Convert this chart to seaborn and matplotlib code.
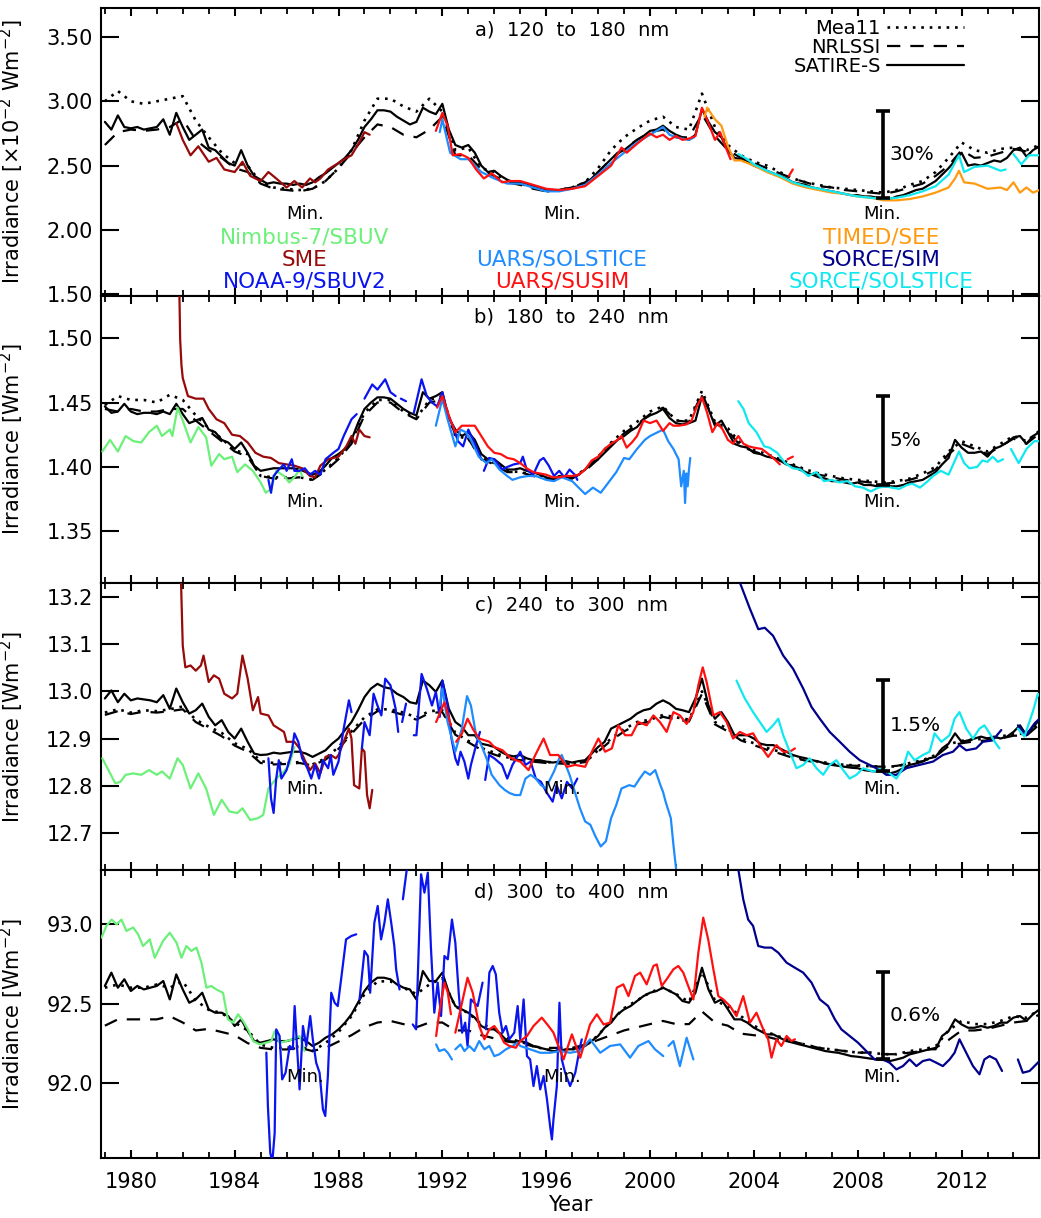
import numpy as np
import matplotlib
matplotlib.use("Agg")
import matplotlib.pyplot as plt
import seaborn as sns
from matplotlib.lines import Line2D
from matplotlib.ticker import MultipleLocator, FormatStrFormatter

# ---------------------------------------------------------------------------
# Model reconstructions.  SATIRE-S sampled every 0.25 yr from 1979.0,
# Mea11 and NRLSSI every 0.5 yr from 1979.0 (one row per year).
# ---------------------------------------------------------------------------
SATIRE_A = [
    2.84, 2.78, 2.89, 2.80,  2.79, 2.80, 2.78, 2.79,  2.80, 2.86, 2.74, 2.91,
    2.80, 2.70, 2.74, 2.78,  2.64, 2.62, 2.57, 2.52,  2.50, 2.62, 2.50, 2.42,
    2.39, 2.36, 2.37, 2.36,  2.36, 2.35, 2.36, 2.35,  2.37, 2.41, 2.44, 2.48,
    2.52, 2.56, 2.62, 2.70,  2.80, 2.86, 2.93, 2.93,  2.92, 2.88, 2.85, 2.82,
    2.84, 2.95, 2.92, 2.90,  2.98, 2.78, 2.66, 2.64,  2.66, 2.60, 2.50, 2.45,
    2.46, 2.42, 2.39, 2.37,  2.37, 2.36, 2.34, 2.32,  2.31, 2.31, 2.31, 2.32,
    2.33, 2.34, 2.36, 2.40,  2.45, 2.50, 2.55, 2.60,  2.62, 2.66, 2.70, 2.73,
    2.77, 2.78, 2.81, 2.77,  2.74, 2.72, 2.70, 2.74,  2.94, 2.84, 2.76, 2.72,
    2.62, 2.56, 2.55, 2.53,  2.50, 2.48, 2.46, 2.44,  2.42, 2.40, 2.37, 2.36,
    2.35, 2.33, 2.32, 2.31,  2.30, 2.29, 2.28, 2.27,  2.27, 2.26, 2.26, 2.25,
    2.24, 2.24, 2.26, 2.27,  2.29, 2.31, 2.32, 2.35,  2.38, 2.43, 2.48, 2.54,
    2.60, 2.50, 2.51, 2.50,  2.52, 2.54, 2.53, 2.56,  2.62, 2.64, 2.57, 2.62,
    2.65,
]
MEA11_A = [
    3.00, 3.08,  3.00, 2.98,  3.00, 3.02,  3.04, 2.85,  2.72, 2.60,  2.52, 2.50,
    2.37, 2.33,  2.32, 2.31,  2.32, 2.38,  2.48, 2.62,  2.85, 3.02,  3.02, 2.96,
    2.92, 3.02,  2.92, 2.62,  2.64, 2.48,  2.45, 2.38,  2.36, 2.33,  2.30, 2.31,
    2.33, 2.37,  2.48, 2.62,  2.72, 2.79,  2.85, 2.88,  2.80, 2.78,  3.06, 2.80,
    2.66, 2.58,  2.53, 2.50,  2.45, 2.40,  2.37, 2.35,  2.33, 2.32,  2.31, 2.30,
    2.29, 2.31,  2.35, 2.38,  2.45, 2.56,  2.68, 2.62,  2.60, 2.63,  2.64, 2.62,
    2.66,
]
NRLSSI_A = [
    2.66, 2.76,  2.78, 2.77,  2.78, 2.80,  2.86, 2.70,  2.62, 2.56,  2.48, 2.45,
    2.36, 2.32,  2.31, 2.30,  2.32, 2.38,  2.48, 2.60,  2.72, 2.82,  2.80, 2.74,
    2.72, 2.78,  2.88, 2.58,  2.58, 2.47,  2.42, 2.37,  2.35, 2.32,  2.30, 2.31,
    2.33, 2.37,  2.45, 2.55,  2.63, 2.70,  2.76, 2.78,  2.72, 2.72,  2.90, 2.73,
    2.62, 2.56,  2.52, 2.48,  2.44, 2.40,  2.37, 2.34,  2.33, 2.31,  2.30, 2.29,
    2.28, 2.30,  2.33, 2.36,  2.42, 2.50,  2.62, 2.56,  2.57, 2.60,  2.63, 2.61,
    2.65,
]

SATIRE_B = [
    1.447, 1.442, 1.443, 1.449,  1.443, 1.441, 1.442, 1.442,  1.441, 1.443, 1.441, 1.449,
    1.441, 1.434, 1.436, 1.438,  1.429, 1.427, 1.421, 1.419,  1.414, 1.419, 1.411, 1.401,
    1.397, 1.398, 1.399, 1.399,  1.399, 1.399, 1.398, 1.396,  1.394, 1.396, 1.401, 1.407,
    1.410, 1.414, 1.421, 1.434,  1.445, 1.450, 1.454, 1.454,  1.453, 1.449, 1.445, 1.442,
    1.440, 1.458, 1.453, 1.455,  1.458, 1.438, 1.429, 1.424,  1.427, 1.421, 1.410, 1.406,
    1.406, 1.402, 1.398, 1.398,  1.399, 1.397, 1.396, 1.394,  1.392, 1.390, 1.393, 1.392,
    1.392, 1.394, 1.398, 1.403,  1.406, 1.411, 1.416, 1.421,  1.424, 1.428, 1.431, 1.437,
    1.440, 1.442, 1.445, 1.438,  1.434, 1.433, 1.434, 1.436,  1.455, 1.445, 1.432, 1.436,
    1.427, 1.418, 1.416, 1.415,  1.411, 1.410, 1.408, 1.407,  1.405, 1.402, 1.401, 1.398,
    1.396, 1.394, 1.392, 1.391,  1.389, 1.389, 1.388, 1.387,  1.388, 1.386, 1.386, 1.385,
    1.385, 1.385, 1.385, 1.386,  1.388, 1.389, 1.390, 1.393,  1.396, 1.402, 1.407, 1.421,
    1.415, 1.411, 1.411, 1.412,  1.408, 1.414, 1.416, 1.419,  1.423, 1.424, 1.418, 1.424,
    1.427,
]
MEA11_B = [
    1.448, 1.455,  1.452, 1.452,  1.450, 1.456,  1.452, 1.440,  1.430, 1.422,  1.413, 1.410,
    1.393, 1.392,  1.392, 1.392,  1.390, 1.398,  1.407, 1.420,  1.442, 1.452,  1.452, 1.443,
    1.438, 1.452,  1.455, 1.424,  1.422, 1.407,  1.403, 1.397,  1.396, 1.394,  1.391, 1.392,
    1.392, 1.398,  1.408, 1.419,  1.428, 1.435,  1.443, 1.447,  1.436, 1.436,  1.459, 1.435,
    1.430, 1.418,  1.413, 1.410,  1.406, 1.402,  1.398, 1.395,  1.393, 1.391,  1.390, 1.389,
    1.388, 1.389,  1.391, 1.395,  1.400, 1.412,  1.420, 1.416,  1.412, 1.418,  1.424, 1.420,
    1.428,
]
NRLSSI_B = [
    1.445, 1.443,  1.445, 1.443,  1.443, 1.445,  1.445, 1.436,  1.428, 1.420,  1.412, 1.408,
    1.393, 1.391,  1.391, 1.392,  1.390, 1.397,  1.406, 1.418,  1.440, 1.450,  1.450, 1.442,
    1.437, 1.450,  1.452, 1.425,  1.422, 1.406,  1.402, 1.396,  1.396, 1.393,  1.391, 1.391,
    1.391, 1.397,  1.406, 1.418,  1.426, 1.433,  1.441, 1.446,  1.436, 1.435,  1.457, 1.434,
    1.428, 1.416,  1.412, 1.409,  1.405, 1.401,  1.397, 1.394,  1.392, 1.390,  1.389, 1.388,
    1.387, 1.388,  1.390, 1.393,  1.398, 1.410,  1.418, 1.414,  1.410, 1.416,  1.422, 1.418,
    1.426,
]

SATIRE_C = [
    12.985, 13.002, 12.977, 12.995,  12.981, 12.985, 12.983, 12.981,  12.977, 12.992, 12.963, 13.006,
    12.977, 12.953, 12.960, 12.974,  12.946, 12.928, 12.939, 12.914,  12.900, 12.921, 12.893, 12.868,
    12.865, 12.866, 12.870, 12.868,  12.870, 12.872, 12.872, 12.868,  12.861, 12.868, 12.875, 12.889,
    12.900, 12.918, 12.935, 12.960,  12.988, 13.006, 13.016, 13.009,  13.006, 12.995, 12.988, 12.977,
    12.974, 13.023, 13.013, 12.999,  13.023, 12.963, 12.935, 12.925,  12.907, 12.907, 12.889, 12.886,
    12.882, 12.872, 12.865, 12.862,  12.865, 12.858, 12.854, 12.854,  12.851, 12.849, 12.851, 12.852,
    12.849, 12.852, 12.854, 12.868,  12.882, 12.893, 12.921, 12.928,  12.935, 12.942, 12.953, 12.960,
    12.963, 12.974, 12.981, 12.974,  12.963, 12.960, 12.956, 12.985,  13.027, 12.970, 12.942, 12.956,
    12.935, 12.907, 12.907, 12.907,  12.900, 12.889, 12.886, 12.886,  12.879, 12.872, 12.865, 12.861,
    12.858, 12.854, 12.851, 12.847,  12.844, 12.842, 12.840, 12.838,  12.837, 12.833, 12.831, 12.830,
    12.830, 12.826, 12.830, 12.837,  12.844, 12.847, 12.851, 12.858,  12.861, 12.879, 12.889, 12.911,
    12.893, 12.896, 12.900, 12.904,  12.900, 12.904, 12.900, 12.904,  12.914, 12.928, 12.907, 12.925,
    12.939,
]
MEA11_C = [
    12.955, 12.962,  12.955, 12.960,  12.958, 12.962,  12.968, 12.940,  12.925, 12.912,  12.890, 12.878,
    12.852, 12.848,  12.848, 12.850,  12.845, 12.858,  12.882, 12.915,  12.945, 12.962,  12.962, 12.955,
    12.945, 12.958,  12.960, 12.912,  12.895, 12.880,  12.870, 12.860,  12.857, 12.853,  12.850, 12.849,
    12.848, 12.852,  12.875, 12.900,  12.920, 12.935,  12.940, 12.950,  12.945, 12.940,  13.000, 12.935,
    12.920, 12.900,  12.890, 12.880,  12.872, 12.862,  12.855, 12.851,  12.847, 12.844,  12.843, 12.841,
    12.840, 12.841,  12.848, 12.854,  12.865, 12.888,  12.895, 12.898,  12.900, 12.904,  12.910, 12.910,
    12.935,
]
NRLSSI_C = [
    12.950, 12.958,  12.952, 12.957,  12.955, 12.958,  12.962, 12.935,  12.920, 12.905,  12.885, 12.872,
    12.848, 12.845,  12.846, 12.848,  12.843, 12.855,  12.878, 12.910,  12.940, 12.958,  12.958, 12.950,
    12.940, 12.954,  12.956, 12.908,  12.892, 12.876,  12.866, 12.857,  12.854, 12.851,  12.848, 12.847,
    12.846, 12.850,  12.872, 12.896,  12.915, 12.930,  12.936, 12.946,  12.940, 12.936,  12.995, 12.930,
    12.915, 12.896,  12.886, 12.876,  12.868, 12.859,  12.853, 12.849,  12.845, 12.843,  12.842, 12.841,
    12.840, 12.842,  12.847, 12.852,  12.862, 12.884,  12.890, 12.894,  12.896, 12.900,  12.906, 12.906,
    12.930,
]

SATIRE_D = [
    92.611, 92.695, 92.600, 92.653,  92.579, 92.611, 92.589, 92.600,  92.611, 92.642, 92.526, 92.684,
    92.589, 92.505, 92.526, 92.568,  92.463, 92.442, 92.442, 92.421,  92.358, 92.400, 92.326, 92.263,
    92.253, 92.263, 92.274, 92.263,  92.263, 92.274, 92.284, 92.263,  92.232, 92.253, 92.284, 92.305,
    92.337, 92.379, 92.432, 92.505,  92.579, 92.632, 92.663, 92.663,  92.653, 92.621, 92.600, 92.589,
    92.526, 92.705, 92.642, 92.642,  92.695, 92.568, 92.484, 92.463,  92.442, 92.411, 92.358, 92.337,
    92.337, 92.305, 92.263, 92.260,  92.263, 92.253, 92.232, 92.221,  92.211, 92.200, 92.200, 92.211,
    92.211, 92.221, 92.232, 92.263,  92.295, 92.347, 92.379, 92.432,  92.463, 92.484, 92.516, 92.547,
    92.568, 92.579, 92.600, 92.579,  92.558, 92.516, 92.505, 92.568,  92.726, 92.589, 92.505, 92.526,
    92.463, 92.400, 92.400, 92.379,  92.347, 92.326, 92.305, 92.305,  92.284, 92.263, 92.253, 92.242,
    92.232, 92.221, 92.211, 92.200,  92.194, 92.189, 92.179, 92.168,  92.164, 92.158, 92.152, 92.147,
    92.143, 92.137, 92.147, 92.158,  92.179, 92.189, 92.200, 92.211,  92.211, 92.295, 92.326, 92.400,
    92.368, 92.347, 92.347, 92.358,  92.347, 92.358, 92.379, 92.379,  92.411, 92.421, 92.390, 92.432,
    92.463,
]
MEA11_D = [
    92.60, 92.62,  92.60, 92.60,  92.62, 92.60,  92.64, 92.52,  92.46, 92.44,  92.38, 92.33,
    92.24, 92.22,  92.22, 92.23,  92.20, 92.25,  92.32, 92.42,  92.56, 92.64,  92.64, 92.60,
    92.56, 92.62,  92.66, 92.48,  92.44, 92.37,  92.34, 92.28,  92.26, 92.23,  92.21, 92.20,
    92.21, 92.23,  92.30, 92.39,  92.47, 92.52,  92.57, 92.60,  92.56, 92.51,  92.70, 92.52,
    92.48, 92.42,  92.36, 92.32,  92.29, 92.26,  92.24, 92.22,  92.21, 92.20,  92.19, 92.19,
    92.18, 92.18,  92.20, 92.21,  92.23, 92.33,  92.39, 92.37,  92.37, 92.39,  92.42, 92.41,
    92.46,
]
NRLSSI_D = [
    92.36, 92.40,  92.40, 92.40,  92.40, 92.42,  92.38, 92.33,  92.34, 92.32,  92.30, 92.25,
    92.22, 92.21,  92.21, 92.22,  92.20, 92.22,  92.26, 92.30,  92.35, 92.38,  92.39, 92.37,
    92.35, 92.38,  92.38, 92.33,  92.33, 92.30,  92.28, 92.26,  92.25, 92.23,  92.22, 92.22,
    92.22, 92.24,  92.27, 92.30,  92.33, 92.35,  92.37, 92.39,  92.37, 92.37,  92.45, 92.38,
    92.36, 92.31,  92.30, 92.29,  92.27, 92.26,  92.24, 92.22,  92.21, 92.20,  92.19, 92.19,
    92.18, 92.18,  92.19, 92.20,  92.22, 92.27,  92.33, 92.33,  92.34, 92.36,  92.38, 92.39,
    92.43,
]

# ---------------------------------------------------------------------------
# Observations: (year, irradiance) pairs, None marks a data gap.
# ---------------------------------------------------------------------------
SME_A = [(1981.75, 2.83), (1982.0, 2.70), (1982.3, 2.58), (1982.6, 2.65), (1983.0, 2.53),
         (1983.3, 2.56), (1983.6, 2.47), (1984.0, 2.45), (1984.3, 2.53), (1984.6, 2.42),
         (1985.0, 2.38), (1985.3, 2.45), (1985.6, 2.40), (1986.0, 2.33), (1986.3, 2.38),
         (1986.6, 2.33), (1986.9, 2.40), (1987.1, 2.37), (1987.3, 2.40), (1987.6, 2.47),
         (1988.0, 2.52), (1988.3, 2.56), (1988.5, 2.58), (1988.8, 2.68), (1989.0, 2.76),
         (1989.2, 2.74)]
UARS_SOLSTICE_A = [(1991.9, 2.76), (1992.0, 2.86), (1992.3, 2.60), (1992.7, 2.55), (1993.0, 2.55),
                   (1993.5, 2.45), (1994.0, 2.40), (1994.5, 2.36), (1995.0, 2.36), (1995.5, 2.33),
                   (1996.0, 2.30), (1996.5, 2.30), (1997.0, 2.32), (1997.5, 2.35), (1998.0, 2.43),
                   (1998.5, 2.52), (1999.0, 2.60), (1999.5, 2.68), (2000.0, 2.74), (2000.5, 2.80),
                   (2000.75, 2.74), (2001.0, 2.72), (2001.25, 2.71), (2001.5, 2.70), (2001.7, 2.72)]
UARS_SUSIM_A = [(1991.75, 2.77), (1992.0, 2.91), (1992.2, 2.81), (1992.4, 2.58), (1992.7, 2.59),
                (1993.0, 2.56), (1993.3, 2.47), (1993.6, 2.40), (1993.9, 2.44), (1994.3, 2.37),
                (1994.6, 2.38), (1995.0, 2.38), (1995.5, 2.35), (1996.0, 2.32), (1996.5, 2.31),
                (1997.0, 2.32), (1997.5, 2.34), (1998.0, 2.42), (1998.5, 2.50), (1998.9, 2.64),
                (1999.1, 2.60), (1999.5, 2.67), (2000.0, 2.75), (2000.25, 2.72), (2000.5, 2.74),
                (2000.75, 2.70), (2001.0, 2.73), (2001.25, 2.70), (2001.5, 2.71), (2001.75, 2.73),
                (2002.0, 2.95), (2002.25, 2.83), (2002.5, 2.70), (2002.7, 2.76), (2002.9, 2.65),
                (2003.1, 2.55), None, (2005.35, 2.42), (2005.5, 2.47)]
TIMED_SEE_A = [(2002.1, 2.88), (2002.2, 2.95), (2002.5, 2.86), (2002.75, 2.81), (2003.0, 2.65),
               (2003.25, 2.54), (2003.5, 2.54), (2004.0, 2.50), (2004.5, 2.45), (2005.0, 2.41),
               (2005.5, 2.36), (2006.0, 2.33), (2006.5, 2.31), (2007.0, 2.29), (2007.5, 2.28),
               (2008.0, 2.26), (2008.5, 2.25), (2009.0, 2.23), (2009.5, 2.23), (2010.0, 2.24),
               (2010.5, 2.26), (2011.0, 2.29), (2011.5, 2.33), (2011.75, 2.40), (2011.9, 2.46),
               (2012.1, 2.37), (2012.5, 2.36), (2013.0, 2.32), (2013.5, 2.33), (2013.75, 2.31),
               (2014.0, 2.37), (2014.25, 2.29), (2014.5, 2.33), (2014.75, 2.29), (2015.0, 2.31)]
SORCE_SOLSTICE_A = [(2003.4, 2.59), (2003.75, 2.55), (2004.0, 2.51), (2004.5, 2.46), (2005.0, 2.42),
                    (2005.5, 2.37), (2006.0, 2.34), (2006.5, 2.32), (2007.0, 2.30), (2007.5, 2.28),
                    (2008.0, 2.26), (2008.5, 2.25), (2009.0, 2.24), (2009.5, 2.25), (2010.0, 2.27),
                    (2010.5, 2.30), (2011.0, 2.34), (2011.5, 2.43), (2011.9, 2.58), (2012.1, 2.45),
                    (2012.5, 2.49), (2013.0, 2.50), (2013.5, 2.46), (2013.7, 2.47), None,
                    (2014.0, 2.59), (2014.3, 2.51), (2014.6, 2.58), (2015.0, 2.58)]

NIMBUS7_B = [(1978.9, 1.412), (1979.2, 1.421), (1979.5, 1.412), (1979.8, 1.424), (1980.1, 1.420),
             (1980.4, 1.419), (1980.7, 1.427), (1981.0, 1.432), (1981.2, 1.424), (1981.5, 1.429),
             (1981.6, 1.424), (1981.8, 1.446), (1982.0, 1.436), (1982.3, 1.419), (1982.6, 1.431),
             (1982.9, 1.423), (1983.1, 1.401), (1983.4, 1.410), (1983.6, 1.406), (1983.9, 1.408),
             (1984.1, 1.396), (1984.4, 1.402), (1984.7, 1.397), (1985.0, 1.388), (1985.2, 1.380),
             (1985.4, 1.383), (1985.6, 1.397), (1985.9, 1.393), (1986.1, 1.388), (1986.3, 1.392),
             (1986.5, 1.398), (1986.6, 1.393)]
SME_B = [(1981.85, 1.560), (1981.9, 1.499), (1981.95, 1.479), (1982.0, 1.469), (1982.2, 1.455),
         (1982.5, 1.453), (1982.8, 1.453), (1983.0, 1.445), (1983.3, 1.437), (1983.6, 1.434),
         (1983.9, 1.425), (1984.2, 1.424), (1984.5, 1.419), (1984.8, 1.411), (1985.1, 1.408),
         (1985.4, 1.407), (1985.7, 1.403), (1986.0, 1.402), (1986.3, 1.401), (1986.6, 1.399),
         (1986.9, 1.393), (1987.1, 1.392), (1987.3, 1.401), (1987.6, 1.406), (1988.0, 1.408),
         (1988.3, 1.416), (1988.5, 1.424), (1988.65, 1.418), (1988.8, 1.429), (1989.0, 1.424),
         (1989.2, 1.423)]
NOAA9_B = [(1985.3, 1.390), (1985.4, 1.380), (1985.5, 1.393), (1985.7, 1.398), (1985.9, 1.402),
           (1986.0, 1.397), (1986.2, 1.406), (1986.3, 1.397), (1986.5, 1.397), (1986.7, 1.399),
           (1986.9, 1.394), (1987.1, 1.397), (1987.3, 1.394), (1987.5, 1.406), (1987.8, 1.411),
           (1988.0, 1.414), (1988.2, 1.424), (1988.5, 1.437), (1988.7, 1.441), None,
           (1989.0, 1.453), (1989.3, 1.464), (1989.5, 1.460), (1989.8, 1.468), (1990.0, 1.458),
           (1990.2, 1.455), None, (1990.4, 1.453), (1990.6, 1.451), None,
           (1990.9, 1.442), (1991.2, 1.468), (1991.4, 1.455), (1991.6, 1.450), (1991.8, 1.447),
           (1992.0, 1.458), (1992.2, 1.441), (1992.4, 1.432), (1992.6, 1.420), (1992.8, 1.416),
           (1993.0, 1.429), (1993.3, 1.416), (1993.5, 1.406), None,
           (1993.6, 1.397), (1993.8, 1.407), (1994.0, 1.406), (1994.3, 1.398), (1994.5, 1.400),
           (1994.75, 1.402), (1995.0, 1.403), (1995.1, 1.408), (1995.25, 1.398), (1995.5, 1.394),
           (1995.75, 1.405), (1995.9, 1.407), (1996.1, 1.401), (1996.3, 1.393), (1996.5, 1.397),
           (1996.7, 1.392), (1996.9, 1.398), (1997.1, 1.394), (1997.2, 1.390)]
UARS_SOLSTICE_B = [(1991.75, 1.432), (1992.0, 1.453), (1992.2, 1.437), (1992.5, 1.416), (1992.7, 1.429),
                   (1992.9, 1.427), (1993.1, 1.421), (1993.4, 1.408), (1993.7, 1.403), (1993.9, 1.406),
                   (1994.2, 1.398), (1994.5, 1.393), (1994.7, 1.390), (1995.0, 1.392), (1995.3, 1.393),
                   (1995.6, 1.393), (1996.0, 1.390), (1996.3, 1.389), (1996.6, 1.392), (1997.0, 1.389),
                   (1997.3, 1.383), (1997.5, 1.379), (1997.8, 1.384), (1998.1, 1.380), (1998.4, 1.388),
                   (1998.7, 1.396), (1999.0, 1.407), (1999.2, 1.406), (1999.5, 1.414), (1999.8, 1.421),
                   (2000.0, 1.424), (2000.3, 1.427), (2000.5, 1.429), (2000.7, 1.420), (2000.9, 1.414),
                   (2001.1, 1.406), (2001.2, 1.385), (2001.3, 1.397), (2001.35, 1.372), (2001.4, 1.395),
                   (2001.45, 1.385), (2001.5, 1.398), (2001.55, 1.407)]
UARS_SUSIM_B = [(1991.8, 1.446), (1992.0, 1.455), (1992.3, 1.437), (1992.5, 1.427), (1992.75, 1.432),
                (1993.0, 1.432), (1993.25, 1.432), (1993.5, 1.424), (1993.75, 1.416), (1994.0, 1.411),
                (1994.25, 1.410), (1994.5, 1.407), (1994.75, 1.406), (1995.0, 1.403), (1995.25, 1.399),
                (1995.5, 1.396), (1995.75, 1.395), (1996.0, 1.394), (1996.25, 1.392), (1996.5, 1.392),
                (1996.75, 1.393), (1997.0, 1.393), (1997.25, 1.394), (1997.5, 1.398), (1997.75, 1.405),
                (1998.0, 1.408), (1998.25, 1.414), (1998.5, 1.418), (1998.75, 1.421), (1998.9, 1.424),
                (1999.1, 1.415), (1999.3, 1.419), (1999.5, 1.424), (1999.75, 1.436), (2000.0, 1.434),
                (2000.25, 1.436), (2000.5, 1.428), (2000.75, 1.434), (2000.9, 1.432), (2001.1, 1.432),
                (2001.4, 1.433), (2001.6, 1.436), (2001.8, 1.447), (2002.0, 1.454), (2002.2, 1.442),
                (2002.4, 1.427), (2002.6, 1.434), (2002.8, 1.429), (2003.0, 1.421), (2003.2, 1.418),
                (2003.4, 1.424), (2003.6, 1.418), (2003.8, 1.416), (2004.0, 1.415), (2004.3, 1.414),
                (2004.5, 1.411), (2004.8, 1.406), (2005.0, 1.402), None, (2005.3, 1.406), (2005.5, 1.408)]
SORCE_SOLSTICE_B = [(2003.4, 1.451), (2003.6, 1.445), (2003.8, 1.434), (2004.1, 1.427), (2004.4, 1.416),
                    (2004.6, 1.415), (2004.9, 1.411), (2005.2, 1.403), (2005.5, 1.399), (2005.8, 1.398),
                    (2006.1, 1.393), (2006.4, 1.396), (2006.7, 1.389), (2007.0, 1.390), (2007.3, 1.388),
                    (2007.6, 1.389), (2007.9, 1.385), (2008.2, 1.384), (2008.5, 1.381), (2008.8, 1.384),
                    (2009.1, 1.385), (2009.3, 1.384), (2009.6, 1.383), (2009.9, 1.386), (2010.1, 1.387),
                    (2010.4, 1.384), (2010.7, 1.389), (2010.9, 1.393), (2011.2, 1.397), (2011.5, 1.394),
                    (2011.7, 1.403), (2011.9, 1.412), (2012.1, 1.403), (2012.3, 1.399), (2012.6, 1.400),
                    (2012.8, 1.405), (2013.0, 1.404), (2013.2, 1.408), (2013.4, 1.404), (2013.6, 1.406),
                    None, (2013.9, 1.414), (2014.2, 1.403), (2014.5, 1.414), (2014.8, 1.420),
                    (2015.0, 1.420)]

NIMBUS7_C = [(1978.9, 12.858), (1979.1, 12.837), (1979.4, 12.805), (1979.6, 12.808), (1979.8, 12.823),
             (1980.1, 12.826), (1980.4, 12.823), (1980.7, 12.833), (1981.0, 12.823), (1981.2, 12.830),
             (1981.5, 12.815), (1981.8, 12.858), (1982.0, 12.844), (1982.3, 12.794), (1982.6, 12.826),
             (1982.9, 12.794), (1983.2, 12.738), (1983.5, 12.770), (1983.8, 12.745), (1984.1, 12.742),
             (1984.3, 12.752), (1984.6, 12.727), (1984.9, 12.731), (1985.1, 12.738), (1985.3, 12.794),
             (1985.6, 12.815), (1985.9, 12.830), (1986.1, 12.844), (1986.3, 12.882)]
SME_C = [(1981.9, 13.300), (1982.0, 13.097), (1982.1, 13.051), (1982.3, 13.055), (1982.5, 13.044),
         (1982.7, 13.055), (1982.8, 13.076), (1983.0, 13.020), (1983.2, 13.034), (1983.4, 13.027),
         (1983.6, 12.995), (1983.9, 12.985), (1984.1, 12.995), (1984.3, 13.076), (1984.5, 13.027),
         (1984.7, 12.960), (1984.9, 12.988), (1985.0, 12.953), (1985.3, 12.949), (1985.5, 12.928),
         (1985.7, 12.921), (1985.9, 12.914), (1986.0, 12.893), (1986.3, 12.893), (1986.5, 12.879),
         (1986.7, 12.854), (1986.9, 12.833), (1987.1, 12.847), (1987.3, 12.826), (1987.5, 12.861),
         (1987.7, 12.865), (1987.9, 12.858), (1988.0, 12.865), (1988.2, 12.893), (1988.4, 12.921),
         (1988.5, 12.900), (1988.6, 12.801), (1988.8, 12.794), (1988.9, 12.879), (1989.0, 12.872),
         (1989.1, 12.780), (1989.2, 12.752), (1989.3, 12.791)]
NOAA9_C = [(1985.3, 12.858), (1985.4, 12.773), (1985.5, 12.742), (1985.6, 12.815), (1985.7, 12.854),
           (1985.8, 12.815), (1986.0, 12.833), (1986.2, 12.872), (1986.3, 12.911), (1986.45, 12.893),
           (1986.6, 12.858), (1986.8, 12.837), (1986.95, 12.815), (1987.1, 12.844), (1987.25, 12.815),
           (1987.4, 12.854), (1987.6, 12.837), (1987.7, 12.865), (1987.8, 12.823), (1988.0, 12.851),
           (1988.2, 12.921), (1988.4, 12.981), (1988.5, 12.956), None,
           (1988.9, 12.879), (1989.0, 12.935), (1989.2, 12.907), (1989.35, 12.995), (1989.5, 12.970),
           (1989.65, 12.949), (1989.8, 13.027), (1990.0, 13.013), (1990.2, 12.963), (1990.3, 12.914),
           None, (1990.45, 12.935), (1990.6, 12.974), None,
           (1990.9, 12.907), (1991.0, 12.907), (1991.2, 13.037), (1991.4, 13.006), (1991.6, 12.970),
           (1991.75, 12.999), (1991.9, 12.946), (1992.0, 13.023), (1992.2, 12.970), (1992.35, 12.900),
           (1992.5, 12.858), (1992.6, 12.844), (1992.7, 12.872), (1992.85, 12.851), (1993.0, 12.815),
           (1993.1, 12.844), (1993.3, 12.886), (1993.45, 12.914), None,
           (1993.65, 12.812), (1993.8, 12.865), (1994.0, 12.858), (1994.3, 12.844), (1994.5, 12.815),
           (1994.7, 12.844), (1995.0, 12.872), (1995.2, 12.844), (1995.4, 12.851), (1995.6, 12.815),
           (1995.8, 12.808), (1996.0, 12.787), (1996.25, 12.766), (1996.4, 12.801), (1996.6, 12.773),
           (1996.8, 12.808), (1997.0, 12.794), (1997.2, 12.815)]
UARS_SOLSTICE_C = [(1991.9, 12.970), (1992.0, 13.006), (1992.2, 12.935), (1992.5, 12.872), (1992.75, 12.921),
                   (1992.95, 12.990), (1993.1, 12.970), (1993.3, 12.907), (1993.5, 12.886), (1993.7, 12.858),
                   (1993.9, 12.823), (1994.2, 12.801), (1994.4, 12.791), (1994.6, 12.784), (1994.8, 12.780),
                   (1995.0, 12.780), (1995.2, 12.815), (1995.4, 12.823), (1995.6, 12.815), (1995.8, 12.801),
                   (1996.0, 12.794), (1996.1, 12.808), (1996.3, 12.830), (1996.4, 12.844), (1996.5, 12.858),
                   (1996.6, 12.865), (1996.75, 12.844), (1996.9, 12.823), (1997.1, 12.787), (1997.3, 12.752),
                   (1997.5, 12.724), (1997.7, 12.717), (1997.9, 12.692), (1998.1, 12.671), (1998.3, 12.682),
                   (1998.5, 12.731), (1998.7, 12.759), (1998.9, 12.794), (1999.2, 12.801), (1999.4, 12.798),
                   (1999.6, 12.815), (1999.8, 12.830), (2000.0, 12.823), (2000.2, 12.833), (2000.4, 12.801),
                   (2000.5, 12.787), (2000.6, 12.766), (2000.8, 12.731), (2000.9, 12.675), (2001.0, 12.625),
                   (2001.1, 12.580)]
UARS_SUSIM_C = [(1991.76, 12.935), (1992.08, 12.977), (1992.33, 12.928), None,
                (1992.53, 12.893), (1992.75, 12.910), (1992.97, 12.942), (1993.2, 12.918), (1993.42, 12.900),
                (1993.81, 12.893), (1994.0, 12.882), (1994.32, 12.875), (1994.6, 12.860), (1994.83, 12.854),
                (1995.0, 12.851), (1995.32, 12.833), (1995.58, 12.865), (1995.9, 12.900), (1996.15, 12.865),
                (1996.47, 12.865), (1996.8, 12.840), (1997.12, 12.844), (1997.5, 12.840), (1997.76, 12.872),
                (1998.01, 12.900), (1998.27, 12.872), (1998.53, 12.879), (1998.78, 12.928), (1999.04, 12.907),
                (1999.29, 12.907), (1999.55, 12.935), (1999.87, 12.928), (2000.13, 12.949), (2000.38, 12.935),
                (2000.64, 12.914), (2000.9, 12.956), (2001.15, 12.949), (2001.41, 12.931), (2001.67, 12.956),
                (2001.86, 13.013), (2002.03, 13.051), (2002.18, 13.020), (2002.44, 12.949), (2002.69, 12.956),
                (2002.95, 12.935), (2003.2, 12.900), (2003.46, 12.914), (2003.72, 12.907), (2003.97, 12.911),
                (2004.23, 12.886), (2004.55, 12.861), (2004.87, 12.886), (2005.13, 12.872), (2005.38, 12.872),
                (2005.58, 12.879)]
SORCE_SIM_C = [(2003.3, 13.300), (2003.46, 13.231), (2003.85, 13.175), (2004.17, 13.132), (2004.42, 13.135),
               (2004.74, 13.118), (2005.13, 13.076), (2005.51, 13.048), (2005.9, 13.006), (2006.22, 12.967),
               (2006.54, 12.942), (2006.92, 12.914), (2007.31, 12.893), (2007.69, 12.872), (2008.08, 12.854),
               (2008.46, 12.844), (2008.85, 12.833), (2009.1, 12.823), (2009.49, 12.823), (2009.87, 12.837),
               (2010.38, 12.844), (2010.9, 12.851), (2011.28, 12.865), (2011.67, 12.872), (2011.92, 12.886),
               (2012.18, 12.875), (2012.56, 12.879), (2012.82, 12.893), (2013.2, 12.896), (2013.53, 12.918),
               None, (2014.17, 12.928), (2014.49, 12.907), (2014.81, 12.932), (2015.0, 12.942)]
SORCE_SOLSTICE_C = [(2003.33, 13.023), (2003.65, 12.985), (2003.97, 12.956), (2004.23, 12.935), (2004.49, 12.914),
                    (2004.74, 12.928), (2004.94, 12.942), (2005.13, 12.907), (2005.38, 12.872), (2005.64, 12.837),
                    (2005.9, 12.844), (2006.15, 12.858), (2006.41, 12.837), (2006.67, 12.823), (2006.92, 12.844),
                    (2007.18, 12.854), (2007.44, 12.833), (2007.69, 12.815), (2007.95, 12.823), (2008.21, 12.837),
                    (2008.59, 12.830), (2008.97, 12.837), (2009.23, 12.826), (2009.49, 12.815), (2009.74, 12.837),
                    (2009.94, 12.872), (2010.19, 12.854), (2010.51, 12.865), (2010.77, 12.872), (2010.96, 12.911),
                    (2011.22, 12.893), (2011.54, 12.907), (2011.73, 12.942), (2011.92, 12.956), (2012.18, 12.921),
                    (2012.44, 12.900), (2012.69, 12.921), (2012.88, 12.928), (2013.08, 12.911), (2013.28, 12.893),
                    (2013.46, 12.879), None, (2014.17, 12.921), (2014.42, 12.904), (2014.74, 12.956),
                    (2014.94, 12.995), (2015.0, 12.990)]

NIMBUS7_D = [(1978.87, 92.916), (1979.06, 92.990), (1979.26, 93.030), (1979.45, 93.000), (1979.64, 93.030),
             (1979.83, 92.958), (1980.09, 92.980), (1980.28, 92.937), (1980.47, 92.863), (1980.73, 92.905),
             (1980.92, 92.789), (1981.24, 92.895), (1981.5, 92.947), (1981.76, 92.884), (1981.95, 92.789),
             (1982.14, 92.863), (1982.33, 92.832), (1982.53, 92.853), (1982.72, 92.758), (1982.91, 92.600),
             (1983.1, 92.611), (1983.29, 92.589), (1983.55, 92.568), (1983.74, 92.400), (1983.94, 92.379),
             (1984.13, 92.432), (1984.32, 92.390), (1984.51, 92.337), (1984.71, 92.263), (1984.96, 92.242),
             (1985.22, 92.253), (1985.41, 92.263), (1985.54, 92.326), (1985.73, 92.253), (1985.99, 92.263),
             (1986.24, 92.274), (1986.5, 92.295), (1986.69, 92.200)]
NOAA9_D = [(1985.22, 92.190), (1985.28, 91.853), (1985.37, 91.558), (1985.45, 91.500), (1985.54, 91.680),
           (1985.6, 92.337), (1985.73, 92.295), (1985.83, 92.021), (1985.96, 92.063), (1986.12, 92.232),
           (1986.24, 92.211), (1986.31, 92.484), (1986.4, 92.232), (1986.5, 91.958), (1986.63, 92.358),
           (1986.76, 92.232), (1986.91, 92.421), (1987.01, 92.274), (1987.14, 92.126), (1987.27, 92.063),
           (1987.4, 91.832), (1987.49, 91.790), (1987.59, 92.042), (1987.72, 92.568), (1987.85, 92.505),
           (1987.97, 92.484), (1988.1, 92.653), (1988.29, 92.905), (1988.49, 92.926), (1988.68, 92.937),
           None, (1988.81, 92.526), (1989.0, 92.832), (1989.13, 92.800), (1989.22, 92.568), (1989.38, 93.010),
           (1989.51, 93.116), (1989.64, 92.905), (1989.77, 93.010), (1989.9, 93.158), (1990.03, 93.010),
           (1990.15, 92.863), (1990.22, 92.716), (1990.35, 92.589), None,
           (1990.48, 93.158), (1990.63, 93.347), (1990.7, 93.400), None,
           (1990.86, 92.368), (1990.99, 92.337), (1991.18, 93.316), (1991.31, 93.200), (1991.44, 93.326),
           (1991.56, 92.853), (1991.69, 92.442), (1991.82, 92.632), (1991.95, 92.421), (1992.08, 92.800),
           (1992.21, 92.779), (1992.37, 93.030), (1992.5, 92.884), (1992.63, 92.568), (1992.76, 92.316),
           (1992.88, 92.379), (1992.97, 92.232), (1993.1, 92.526), (1993.23, 92.505), (1993.36, 92.484),
           (1993.55, 92.632), None,
           (1993.68, 92.337), (1993.81, 92.695), (1993.94, 92.737), (1994.06, 92.684), (1994.19, 92.442),
           (1994.32, 92.316), (1994.45, 92.358), (1994.58, 92.274), (1994.77, 92.316), (1994.9, 92.484),
           (1995.0, 92.274), (1995.13, 92.526), (1995.26, 92.168), (1995.38, 92.147), (1995.51, 91.979),
           (1995.64, 92.105), (1995.77, 91.958), (1995.9, 92.042), (1996.03, 91.895), (1996.15, 91.726),
           (1996.22, 91.642), (1996.28, 91.768), (1996.41, 91.979), (1996.51, 92.505), (1996.6, 92.147),
           (1996.73, 92.063), (1996.92, 91.979), (1997.12, 92.063), (1997.31, 92.232), (1997.37, 92.274)]
UARS_SOLSTICE_D = [(1991.76, 92.242), (1991.88, 92.200), (1992.08, 92.211), (1992.21, 92.189), (1992.37, 92.147),
                   None, (1992.5, 92.211), (1992.7, 92.242), (1992.85, 92.200), (1993.04, 92.232),
                   (1993.23, 92.200), (1993.42, 92.263), (1993.62, 92.211), (1993.81, 92.232), (1994.0, 92.168),
                   (1994.19, 92.179), (1994.45, 92.211), (1994.71, 92.232), (1994.9, 92.253), (1995.0, 92.232),
                   (1995.38, 92.211), (1995.77, 92.189), (1996.15, 92.189), (1996.54, 92.200), (1996.92, 92.189),
                   (1997.31, 92.200), (1997.69, 92.274), (1998.08, 92.189), (1998.46, 92.232), (1998.85, 92.242),
                   (1999.23, 92.158), (1999.55, 92.232), (1999.94, 92.263), (2000.19, 92.211), (2000.51, 92.168),
                   None, (2000.71, 92.232), (2000.9, 92.263), (2001.15, 92.105), (2001.41, 92.284),
                   (2001.67, 92.147)]
UARS_SUSIM_D = [(1991.76, 92.295), (1991.88, 92.442), (1992.08, 92.632), (1992.21, 92.568), (1992.33, 92.432),
                None, (1992.5, 92.316), (1992.7, 92.463), (1992.97, 92.663), (1993.17, 92.568),
                (1993.42, 92.358), (1993.62, 92.274), (1993.81, 92.337), (1994.0, 92.358), (1994.19, 92.316),
                (1994.38, 92.253), (1994.58, 92.232), (1994.83, 92.221), (1995.0, 92.263), (1995.26, 92.295),
                (1995.51, 92.358), (1995.83, 92.411), (1996.09, 92.358), (1996.28, 92.316), (1996.47, 92.232),
                (1996.67, 92.147), (1996.99, 92.305), (1997.31, 92.158), (1997.69, 92.368), (1997.95, 92.432),
                (1998.21, 92.368), (1998.46, 92.379), (1998.72, 92.600), (1998.97, 92.621), (1999.17, 92.547),
                (1999.42, 92.674), (1999.62, 92.695), (1999.87, 92.621), (2000.13, 92.737), (2000.26, 92.747),
                (2000.45, 92.611), (2000.64, 92.653), (2000.9, 92.716), (2001.09, 92.737), (2001.28, 92.695),
                (2001.47, 92.611), (2001.67, 92.526), (2001.86, 92.821), (2002.05, 93.042), (2002.24, 92.905),
                (2002.44, 92.716), (2002.63, 92.547), (2002.82, 92.526), (2003.08, 92.484), (2003.33, 92.421),
                (2003.59, 92.547), (2003.85, 92.379), (2004.1, 92.442), (2004.36, 92.337), (2004.55, 92.274),
                (2004.68, 92.158), (2004.87, 92.274), (2005.06, 92.232), (2005.26, 92.295), (2005.45, 92.263),
                (2005.58, 92.274)]
SORCE_SIM_D = [(2003.3, 93.450), (2003.4, 93.347), (2003.59, 93.158), (2003.78, 93.030), (2003.97, 92.990),
               (2004.17, 92.863), (2004.42, 92.853), (2004.68, 92.853), (2004.94, 92.821), (2005.26, 92.758),
               (2005.58, 92.726), (2005.9, 92.695), (2006.22, 92.632), (2006.54, 92.526), (2006.86, 92.484),
               (2007.12, 92.400), (2007.37, 92.337), (2007.69, 92.295), (2008.01, 92.253), (2008.33, 92.200),
               (2008.65, 92.147), (2008.97, 92.147), (2009.23, 92.126), (2009.49, 92.084), (2009.74, 92.105),
               (2010.0, 92.147), (2010.26, 92.105), (2010.51, 92.137), (2010.77, 92.147), (2011.03, 92.126),
               (2011.28, 92.105), (2011.54, 92.147), (2011.73, 92.189), (2011.92, 92.274), (2012.18, 92.189),
               (2012.44, 92.105), (2012.69, 92.053), (2012.88, 92.147), (2013.08, 92.168), (2013.33, 92.147),
               (2013.56, 92.074), None, (2014.17, 92.147), (2014.36, 92.063), (2014.62, 92.074),
               (2014.81, 92.105), (2015.0, 92.137)]

# Instrument colours
C_NIMBUS = "#6cf07a"
C_SME = "#980a0a"
C_NOAA9 = "#0a14ee"
C_UARS_SOL = "#1e8cff"
C_SUSIM = "#ff1010"
C_TIMED = "#ff9a10"
C_SIM = "#00008c"
C_SORCE_SOL = "#10e8f0"

# Variability bars: base value and stated percentage per panel
BAR_YEAR = 2008.96
BAR_BASE = [2.25, 1.386, 12.831, 92.147]
BAR_PCT = [30, 5, 1.5, 0.6]

MIN_YEARS = [1986.7, 1996.6, 2008.95]

PANELS = [
    dict(title="a)  120  to  180  nm", ylim=(1.49, 3.725), step=0.5, fmt="%.2f",
         ylabel="Irradiance [×10$^{-2}$ Wm$^{-2}$]",
         models=(MEA11_A, NRLSSI_A, SATIRE_A),
         obs=[(SME_A, C_SME), (UARS_SOLSTICE_A, C_UARS_SOL), (UARS_SUSIM_A, C_SUSIM),
              (TIMED_SEE_A, C_TIMED), (SORCE_SOLSTICE_A, C_SORCE_SOL)]),
    dict(title="b)  180  to  240  nm", ylim=(1.31, 1.533), step=0.05, fmt="%.2f",
         ylabel="Irradiance [Wm$^{-2}$]",
         models=(MEA11_B, NRLSSI_B, SATIRE_B),
         obs=[(NIMBUS7_B, C_NIMBUS), (SME_B, C_SME), (NOAA9_B, C_NOAA9),
              (UARS_SOLSTICE_B, C_UARS_SOL), (UARS_SUSIM_B, C_SUSIM),
              (SORCE_SOLSTICE_B, C_SORCE_SOL)]),
    dict(title="c)  240  to  300  nm", ylim=(12.62, 13.23), step=0.1, fmt="%.1f",
         ylabel="Irradiance [Wm$^{-2}$]",
         models=(MEA11_C, NRLSSI_C, SATIRE_C),
         obs=[(NIMBUS7_C, C_NIMBUS), (SME_C, C_SME), (NOAA9_C, C_NOAA9),
              (UARS_SOLSTICE_C, C_UARS_SOL), (UARS_SUSIM_C, C_SUSIM),
              (SORCE_SIM_C, C_SIM), (SORCE_SOLSTICE_C, C_SORCE_SOL)]),
    dict(title="d)  300  to  400  nm", ylim=(91.525, 93.34), step=0.5, fmt="%.1f",
         ylabel="Irradiance [Wm$^{-2}$]",
         models=(MEA11_D, NRLSSI_D, SATIRE_D),
         obs=[(NIMBUS7_D, C_NIMBUS), (NOAA9_D, C_NOAA9), (UARS_SOLSTICE_D, C_UARS_SOL),
              (UARS_SUSIM_D, C_SUSIM), (SORCE_SIM_D, C_SIM)]),
]

# Instrument names written in the top panel: (text, colour, year, axes-y)
INSTRUMENT_LABELS = [
    ("Nimbus-7/SBUV", C_NIMBUS, 1986.7, 0.201),
    ("SME", C_SME, 1986.7, 0.125),
    ("NOAA-9/SBUV2", C_NOAA9, 1986.7, 0.049),
    ("UARS/SOLSTICE", C_UARS_SOL, 1996.6, 0.125),
    ("UARS/SUSIM", C_SUSIM, 1996.6, 0.049),
    ("TIMED/SEE", C_TIMED, 2008.9, 0.201),
    ("SORCE/SIM", C_SIM, 2008.9, 0.125),
    ("SORCE/SOLSTICE", C_SORCE_SOL, 2008.9, 0.049),
]

MODEL_STYLES = [
    ("Mea11", dict(linestyle=(0, (1.0, 2.2)), lw=1.9)),
    ("NRLSSI", dict(linestyle=(0, (6.0, 4.5)), lw=1.6)),
    ("SATIRE-S", dict(linestyle="-", lw=1.6)),
]


def segments(pairs):
    run = []
    for p in pairs:
        if p is None:
            if run:
                yield run
            run = []
        else:
            run.append(p)
    if run:
        yield run


sns.set_theme(style="ticks")
plt.rcParams["font.family"] = ["DejaVu Sans"]
plt.rcParams.update({
    "axes.edgecolor": "black", "axes.linewidth": 1.5,
    "xtick.color": "black", "ytick.color": "black", "text.color": "black",
    "axes.labelcolor": "black",
})

fig, axes = plt.subplots(4, 1, figsize=(10.41, 12.18), dpi=100, sharex=True)
fig.subplots_adjust(left=0.097, right=0.9985, top=0.9934, bottom=0.0493, hspace=0)

for i, (ax, cfg) in enumerate(zip(axes, PANELS)):
    mea, nrl, sat = cfg["models"]
    for (name, style), vals in zip(MODEL_STYLES, (mea, nrl, sat)):
        step = 0.25 if vals is sat else 0.5
        yrs = 1979.0 + step * np.arange(len(vals))
        sns.lineplot(x=yrs, y=vals, ax=ax, color="black", estimator=None,
                     legend=False, zorder=2, **style)
    for pairs, col in cfg["obs"]:
        for run in segments(pairs):
            xs, ys = zip(*run)
            sns.lineplot(x=list(xs), y=list(ys), ax=ax, color=col, lw=1.6,
                         estimator=None, legend=False, zorder=3)

    # variability bar
    lo = BAR_BASE[i]
    hi = lo * (1 + BAR_PCT[i] / 100.0)
    ax.errorbar([BAR_YEAR], [(lo + hi) / 2], yerr=[(hi - lo) / 2], fmt="none",
                ecolor="black", elinewidth=2.6, capsize=5, capthick=2.6, zorder=5)
    pct = f"{BAR_PCT[i]:g}%"
    ax.text(BAR_YEAR + 0.28, (lo + hi) / 2, pct, ha="left", va="center", fontsize=14.5)

    trans = ax.get_xaxis_transform()
    for yr in MIN_YEARS:
        ax.text(yr, 0.283, "Min.", transform=trans, ha="center", va="center", fontsize=13)

    ax.text(0.5016, 0.924, cfg["title"], transform=ax.transAxes, ha="center",
            va="center", fontsize=14)

    ax.set_xlim(1978.85, 2015.0)
    ax.set_ylim(*cfg["ylim"])
    ax.yaxis.set_major_locator(MultipleLocator(cfg["step"]))
    ax.yaxis.set_major_formatter(FormatStrFormatter(cfg["fmt"]))
    ax.xaxis.set_major_locator(MultipleLocator(4))
    ax.xaxis.set_minor_locator(MultipleLocator(1))
    ax.tick_params(axis="x", which="major", direction="in", top=True, bottom=True,
                   length=6, width=1.5, labelsize=15, pad=10)
    ax.tick_params(axis="x", which="minor", direction="in", top=True, bottom=True,
                   length=4, width=1.3)
    ax.tick_params(axis="y", which="major", direction="in", left=True, right=True,
                   length=13, width=1.5, labelsize=15, pad=6)
    ax.set_ylabel(cfg["ylabel"], fontsize=15)
    ax.yaxis.set_label_coords(-0.080, 0.5)
    ax.set_xlabel("")
    for sp in ax.spines.values():
        sp.set_visible(True)
        sp.set_linewidth(1.5)
        sp.set_color("black")

# instrument names and model key in the top panel
ax0 = axes[0]
trans0 = ax0.get_xaxis_transform()
for text, col, yr, yfrac in INSTRUMENT_LABELS:
    ax0.text(yr, yfrac, text, color=col, transform=trans0, ha="center", va="center",
             fontsize=15.5)
handles = [Line2D([], [], color="black", **style) for _, style in MODEL_STYLES]
labels = [name for name, _ in MODEL_STYLES]
ax0.legend(handles, labels, loc="upper right", bbox_to_anchor=(0.92, 0.962),
           markerfirst=False, frameon=False, fontsize=14, handlelength=4.0,
           handletextpad=0.3, labelspacing=0.0, borderpad=0.0, borderaxespad=0.0)

axes[-1].set_xlabel("Year", fontsize=15, labelpad=2)

fig.savefig("out.png", dpi=100)
